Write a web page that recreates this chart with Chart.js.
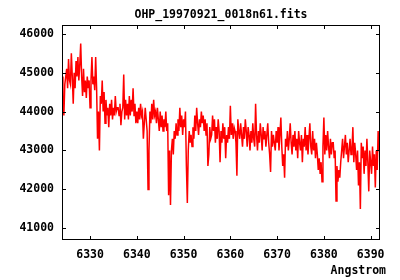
<!DOCTYPE html>
<html lang="en">
<head>
  <meta charset="UTF-8">
  <title>OHP_19970921_0018n61.fits</title>
  <style>
    html, body { margin: 0; padding: 0; background: #fff; }
    canvas { display: block; }
  </style>
  <script src="https://cdn.jsdelivr.net/npm/chart.js"></script>
</head>
<body>
  <canvas id="spec" width="400" height="280"></canvas>

  <script>
    const titleText = 'OHP_19970921_0018n61.fits';
    const xLabel = 'Angstrom';
    const xTicks = [6330, 6340, 6350, 6360, 6370, 6380, 6390];
    const yTicks = [41000, 42000, 43000, 44000, 45000, 46000];

    // wavelength grid: first sample and spacing (Angstrom)
    const startWavelength = 6324.0;
    const stepWavelength = 0.2;

    // flux, one value per 0.2 A, 2 A per row
    const flux = [
      44900, 44300, 43900, 44700, 44900, 45100, 44600, 45350, 44800, 44700,
      45500, 44900, 44200, 45000, 44600, 45300, 44900, 45400, 44800, 45200,
      45750, 44900, 44400, 45100, 44500, 44800, 44350, 44900, 44600, 44800,
      44100, 44800, 45400, 44700, 44900, 44550, 45400, 44600, 43300, 44000,
      43000, 44400, 44200, 44800, 44000, 44500, 43700, 44300, 43900, 44100,
      43600, 44200, 43900, 44300, 43800, 44100, 43900, 44400, 44000, 44100,
      44100, 43900, 44200, 43650, 44000, 44100, 44950, 43800, 44300, 43900,
      44200, 43800, 44400, 43900, 44300, 44000, 44600, 43900, 44200, 43700,
      44000, 43700, 44100, 43800, 44200, 43900, 44000, 43300, 43700, 44100,
      43800, 43500, 42000, 43000, 44000, 43700, 44200, 43800, 44300, 43900,
      44000, 43700, 44100, 43800, 43500, 44000, 43600, 43900, 43500, 43800,
      43600, 44000, 43500, 43700, 41850, 43000, 41600, 43000, 43300, 42900,
      43500, 43300, 43700, 43400, 43800, 43500, 44100, 43600, 43900, 43400,
      43800, 43600, 44000, 42600, 41650, 43000, 43500, 43200, 43400, 43100,
      43600, 43300, 43900, 43500, 44100, 43700, 43400, 43800, 43600, 44000,
      43700, 43900, 43500, 43800, 43400, 43700, 42600, 42900, 43600, 43300,
      43400, 43900, 43500, 43800, 43200, 43600, 43300, 43800, 43500, 42700,
      43500, 43200, 43700, 43300, 43600, 42800, 43400, 43200, 43600, 43300,
      44150, 43400, 43700, 43300, 43600, 43500, 43200, 42350, 43800, 43500,
      43300, 43700, 43400, 43100, 43600, 43300, 43800, 43500, 43100, 43600,
      43400, 43000, 43500, 43200, 43700, 43300, 43100, 44200, 43400, 43000,
      43500, 43200, 43700, 43400, 43000, 43600, 43300, 43500, 43100, 43400,
      43700, 43200, 42900, 42450, 43500, 43100, 43400, 43200, 43000, 43500,
      43200, 43600, 43000, 43400, 43850, 43100, 42600, 42900, 42300, 43300,
      43100, 43500, 43000, 43300, 43700, 43200, 42900, 43400, 43100, 43500,
      43000, 43300, 42800, 43500, 43200, 43000, 43400, 42700, 43300, 43100,
      43600, 43000, 43400, 42900, 43300, 43700, 43100, 42900, 43500, 43000,
      43300, 42800, 43200, 42900, 42500, 42800, 42400, 42700, 42200, 43100,
      43850, 42900, 43400, 43000, 43500, 43100, 42800, 43300, 42900, 43200,
      43200, 42800, 43000, 41700, 42600, 42200, 42500, 42300, 42700, 43000,
      43300, 42800, 43100, 43400, 42900, 43200, 42700, 43000, 43300, 42900,
      43000, 43600, 42700, 43200, 42900, 42500, 43000, 42100, 42700, 41500,
      43200, 42800, 43100, 42400, 43000, 42600, 43300, 42700, 41950, 43000,
      42700, 42400, 43100, 42600, 42900, 42050, 43000, 42500, 43500, 43000,
      43000
    ];

    const points = flux.map((f, i) => ({ x: startWavelength + i * stepWavelength, y: f }));

    const monoFont = '"DejaVu Sans Mono", "Liberation Mono", monospace';

    // gnuplot style frame with inward ticks on all four sides, plus the x label
    const framePlugin = {
      id: 'frame',
      afterDatasetsDraw(chart) {
        const { ctx, chartArea: a, scales: { x, y } } = chart;
        const len = 4;
        ctx.save();
        ctx.strokeStyle = '#000';
        ctx.lineWidth = 1;
        ctx.beginPath();
        xTicks.forEach(v => {
          const px = Math.round(x.getPixelForValue(v)) + 0.5;
          ctx.moveTo(px, a.bottom);
          ctx.lineTo(px, a.bottom - len);
          ctx.moveTo(px, a.top);
          ctx.lineTo(px, a.top + len);
        });
        yTicks.forEach(v => {
          const py = Math.round(y.getPixelForValue(v)) + 0.5;
          ctx.moveTo(a.left, py);
          ctx.lineTo(a.left + len, py);
          ctx.moveTo(a.right, py);
          ctx.lineTo(a.right - len, py);
        });
        ctx.stroke();
        ctx.strokeRect(a.left + 0.5, a.top + 0.5, a.right - a.left - 1, a.bottom - a.top - 1);

        ctx.fillStyle = '#000';
        ctx.font = 'bold 11.5px ' + monoFont;
        ctx.textAlign = 'right';
        ctx.textBaseline = 'alphabetic';
        ctx.fillText(xLabel, 386, 274);
        ctx.restore();
      }
    };

    new Chart(document.getElementById('spec'), {
      type: 'line',
      data: {
        datasets: [{
          data: points,
          borderColor: '#ff0000',
          borderWidth: 1.5,
          pointRadius: 0,
          tension: 0,
          fill: false
        }]
      },
      plugins: [framePlugin],
      options: {
        responsive: false,
        animation: false,
        layout: { padding: { left: 0, right: 20, top: 0, bottom: 0 } },
        plugins: {
          legend: { display: false },
          tooltip: { enabled: false },
          title: {
            display: true,
            text: titleText,
            fullSize: false,
            color: '#000',
            font: { family: monoFont, size: 11.5, weight: 'bold' },
            padding: { top: 8, bottom: 3.2 }
          }
        },
        scales: {
          x: {
            type: 'linear',
            min: 6324.0,
            max: 6392.0,
            grid: { display: false, drawTicks: false },
            border: { display: false },
            afterBuildTicks: s => { s.ticks = xTicks.map(v => ({ value: v })); },
            afterFit: s => { s.height = 40; },
            ticks: {
              color: '#000',
              padding: 8,
              maxRotation: 0,
              font: { family: monoFont, size: 11.5, weight: 'bold' },
              callback: v => String(v)
            }
          },
          y: {
            min: 40700,
            max: 46225,
            grid: { display: false, drawTicks: false },
            border: { display: false },
            afterBuildTicks: s => { s.ticks = yTicks.map(v => ({ value: v })); },
            afterFit: s => { s.width = 62; },
            ticks: {
              color: '#000',
              padding: 8,
              font: { family: monoFont, size: 11.5, weight: 'bold' },
              callback: v => String(v)
            }
          }
        }
      }
    });
  </script>
</body>
</html>
